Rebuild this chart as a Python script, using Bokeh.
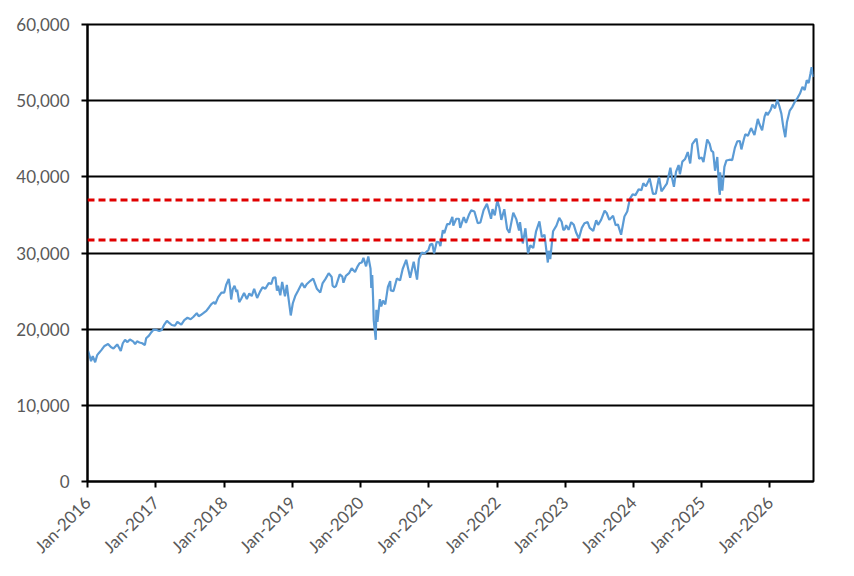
import math
import pandas as pd
from bokeh.plotting import figure
from bokeh.models import Range1d, FixedTicker, Span
from bokeh.embed import file_html
from bokeh.resources import INLINE

# ---------------- data ----------------
dates = [
    "2016-01-04", "2016-01-12", "2016-01-20", "2016-01-29", "2016-02-11", "2016-02-22", "2016-03-01", "2016-03-15",
    "2016-04-01", "2016-04-20", "2016-05-05", "2016-05-19", "2016-06-08", "2016-06-16", "2016-06-27", "2016-07-08",
    "2016-07-20", "2016-08-02", "2016-08-15", "2016-09-01", "2016-09-12", "2016-09-22", "2016-10-05", "2016-10-20",
    "2016-11-03", "2016-11-10", "2016-11-25", "2016-12-08", "2016-12-20",
    "2017-01-05", "2017-01-19", "2017-02-01", "2017-02-15", "2017-03-01", "2017-03-10", "2017-03-27", "2017-04-13",
    "2017-04-26", "2017-05-17", "2017-06-02", "2017-06-19", "2017-07-06", "2017-07-20", "2017-08-08", "2017-08-18",
    "2017-08-29", "2017-09-12", "2017-09-28", "2017-10-12", "2017-10-25", "2017-11-08", "2017-11-15", "2017-12-01",
    "2017-12-18",
    "2018-01-02", "2018-01-12", "2018-01-26", "2018-02-02", "2018-02-08", "2018-02-16", "2018-02-26", "2018-03-08",
    "2018-03-12", "2018-03-23", "2018-04-03", "2018-04-18", "2018-05-03", "2018-05-16", "2018-05-29", "2018-06-11",
    "2018-06-27", "2018-07-12", "2018-07-26", "2018-08-10", "2018-08-28", "2018-09-11", "2018-09-21", "2018-10-03",
    "2018-10-11", "2018-10-17", "2018-10-29", "2018-11-08", "2018-11-23", "2018-12-03", "2018-12-10", "2018-12-24",
    "2019-01-04", "2019-01-17", "2019-02-01", "2019-02-22", "2019-03-08", "2019-03-19", "2019-04-08", "2019-04-23",
    "2019-05-13", "2019-05-31", "2019-06-12", "2019-06-28", "2019-07-15", "2019-07-31", "2019-08-05", "2019-08-14",
    "2019-08-23", "2019-09-12", "2019-09-26", "2019-10-02", "2019-10-15", "2019-11-01", "2019-11-15", "2019-12-03",
    "2019-12-17", "2019-12-27",
    "2020-01-08", "2020-01-17", "2020-01-31", "2020-02-12", "2020-02-24", "2020-02-28", "2020-03-04", "2020-03-09",
    "2020-03-12", "2020-03-16", "2020-03-23", "2020-03-26", "2020-04-01", "2020-04-14", "2020-04-21", "2020-05-01",
    "2020-05-13", "2020-05-27", "2020-06-08", "2020-06-11", "2020-06-26", "2020-07-14", "2020-07-31", "2020-08-14",
    "2020-09-02", "2020-09-23", "2020-10-12", "2020-10-30", "2020-11-09", "2020-11-24", "2020-12-10", "2020-12-30",
    "2021-01-08", "2021-01-20", "2021-01-29", "2021-02-12", "2021-02-25", "2021-03-04", "2021-03-17", "2021-03-25",
    "2021-04-09", "2021-04-22", "2021-05-07", "2021-05-12", "2021-05-28", "2021-06-11", "2021-06-18", "2021-07-07",
    "2021-07-19", "2021-08-05", "2021-08-16", "2021-09-02", "2021-09-20", "2021-10-04", "2021-10-21", "2021-11-08",
    "2021-11-30", "2021-12-08", "2021-12-20", "2021-12-30",
    "2022-01-04", "2022-01-14", "2022-01-24", "2022-02-09", "2022-02-24", "2022-03-08", "2022-03-29", "2022-04-14",
    "2022-04-29", "2022-05-04", "2022-05-19", "2022-06-02", "2022-06-16", "2022-06-28", "2022-07-14", "2022-07-29",
    "2022-08-16", "2022-08-29", "2022-09-12", "2022-09-30", "2022-10-05", "2022-10-13", "2022-10-28", "2022-11-15",
    "2022-11-30", "2022-12-13", "2022-12-22", "2022-12-30",
    "2023-01-06", "2023-01-19", "2023-02-02", "2023-02-16", "2023-03-01", "2023-03-15", "2023-03-31", "2023-04-14",
    "2023-05-01", "2023-05-12", "2023-05-31", "2023-06-16", "2023-06-26", "2023-07-12", "2023-07-31", "2023-08-11",
    "2023-08-25", "2023-09-14", "2023-09-28", "2023-10-10", "2023-10-27", "2023-11-14", "2023-11-29", "2023-12-13",
    "2023-12-28",
    "2024-01-12", "2024-01-29", "2024-02-13", "2024-02-23", "2024-03-08", "2024-03-28", "2024-04-15", "2024-04-30",
    "2024-05-17", "2024-05-30", "2024-06-14", "2024-06-28", "2024-07-17", "2024-07-25", "2024-08-05", "2024-08-16",
    "2024-08-30", "2024-09-06", "2024-09-19", "2024-10-04", "2024-10-18", "2024-10-31", "2024-11-11", "2024-11-29",
    "2024-12-04", "2024-12-18", "2024-12-31",
    "2025-01-10", "2025-01-30", "2025-02-12", "2025-02-21", "2025-03-03", "2025-03-13", "2025-03-25", "2025-04-04",
    "2025-04-08", "2025-04-09", "2025-04-21", "2025-05-02", "2025-05-13", "2025-05-30", "2025-06-13", "2025-06-27",
    "2025-07-10", "2025-07-24", "2025-08-01", "2025-08-14", "2025-08-22", "2025-09-05", "2025-09-22", "2025-10-10",
    "2025-10-28", "2025-11-06", "2025-11-20", "2025-12-03", "2025-12-12", "2025-12-19",
    "2026-01-05", "2026-01-14", "2026-01-28", "2026-02-09", "2026-02-20", "2026-03-03", "2026-03-13", "2026-03-24",
    "2026-04-02", "2026-04-17", "2026-05-01", "2026-05-15", "2026-05-27", "2026-06-10", "2026-06-24", "2026-07-06",
    "2026-07-17", "2026-07-27", "2026-08-06", "2026-08-12", "2026-08-17", "2026-08-21",
]

index_values = [
    17150, 16500, 15800, 16450, 15660, 16600, 16850, 17250,
    17800, 18050, 17650, 17450, 18000, 17650, 17150, 18150,
    18600, 18300, 18650, 18400, 18050, 18400, 18250, 18150,
    17900, 18800, 19150, 19600, 19950,
    19900, 19750, 19900, 20600, 21100, 20900, 20550, 20450,
    20950, 20600, 21200, 21500, 21300, 21600, 22100, 21700,
    21850, 22100, 22400, 22850, 23300, 23550, 23300, 24200,
    24800,
    24800, 25800, 26600, 25500, 23900, 25200, 25700, 24900,
    25200, 23550, 24000, 24750, 23950, 24700, 24350, 25300,
    24100, 24900, 25500, 25300, 26050, 25950, 26750, 26800,
    25050, 25700, 24450, 26200, 24300, 25800, 24400, 21800,
    23400, 24350, 25050, 26050, 25450, 25900, 26350, 26650,
    25300, 24800, 26000, 26600, 27350, 26850, 25700, 25500,
    25650, 27200, 26900, 26100, 27000, 27350, 28000, 27500,
    28250, 28650,
    28750, 29350, 28250, 29550, 27950, 25400, 27100, 23850,
    21200, 20200, 18600, 22550, 20950, 23950, 23000, 23750,
    23250, 25550, 26300, 25100, 25000, 26650, 26400, 27900,
    29100, 26750, 28850, 26500, 29200, 30050, 29950, 30400,
    31100, 31200, 29950, 31450, 31400, 30900, 33000, 32600,
    33800, 33800, 34750, 33600, 34500, 34500, 33300, 34700,
    33950, 35100, 35600, 35450, 33900, 34000, 35600, 36450,
    34500, 35750, 34950, 36450,
    36800, 35900, 34350, 35750, 33150, 32650, 35300, 34450,
    32950, 34050, 31250, 33250, 29950, 31000, 30650, 32850,
    34150, 32100, 32400, 28750, 30300, 29200, 32850, 33600,
    34600, 34100, 33000, 33150,
    33650, 33050, 34050, 33700, 32650, 31900, 33300, 33900,
    34050, 33300, 32900, 34300, 33700, 34350, 35550, 35250,
    34350, 34900, 33650, 33750, 32400, 34800, 35450, 37100,
    37700,
    37600, 38350, 38250, 39150, 38750, 39800, 37750, 37800,
    40000, 38100, 38600, 39100, 41200, 39950, 38700, 40650,
    41550, 40350, 42000, 42350, 43250, 41750, 44300, 44900,
    45000, 42350, 42550,
    41950, 44900, 44350, 43450, 43250, 40800, 42600, 38300,
    37650, 40600, 38200, 41300, 42150, 42250, 42200, 43800,
    44650, 44700, 43600, 44900, 45600, 45400, 46400, 45500,
    47600, 46900, 46100, 47900, 48500, 48100,
    48800, 49500, 49000, 50100, 49300, 48300, 46600, 45200,
    47200, 48700, 49200, 49900, 50300, 50900, 51800, 51400,
    52700, 52300, 53600, 54400, 53600, 53100,
]

reference_levels = [36950, 31700]

x_tick_dates = ["2016-01-01", "2017-01-01", "2018-01-01", "2019-01-01", "2020-01-01", "2021-01-01",
                "2022-01-01", "2023-01-01", "2024-01-01", "2025-01-01", "2026-01-01"]
x_tick_labels = ["Jan-2016", "Jan-2017", "Jan-2018", "Jan-2019", "Jan-2020", "Jan-2021",
                 "Jan-2022", "Jan-2023", "Jan-2024", "Jan-2025", "Jan-2026"]
y_ticks = [0, 10000, 20000, 30000, 40000, 50000, 60000]
y_tick_labels = ["0", "10,000", "20,000", "30,000", "40,000", "50,000", "60,000"]

x_start = "2016-01-01"
x_end = "2026-08-22"

# ---------------- chart ----------------
def to_ms(d):
    return float(pd.Timestamp(d).value // 10**6)

xs = pd.to_datetime(dates)

p = figure(width=846, height=568, x_axis_type="datetime",
           output_backend="svg", toolbar_location=None,
           x_range=Range1d(to_ms(x_start), to_ms(x_end)),
           y_range=Range1d(0, 60000))
p.min_border_left = 87
p.min_border_right = 33
p.min_border_top = 24
p.min_border_bottom = 87
p.background_fill_color = "white"
p.border_fill_color = "white"
p.outline_line_color = "black"
p.outline_line_width = 2

x_ticks = [to_ms(d) for d in x_tick_dates]
p.xaxis.ticker = FixedTicker(ticks=x_ticks)
p.xaxis.major_label_overrides = {t: lab for t, lab in zip(x_ticks, x_tick_labels)}
p.xaxis.major_label_orientation = math.pi / 4
p.yaxis.ticker = FixedTicker(ticks=y_ticks)
p.yaxis.major_label_overrides = {t: lab for t, lab in zip(y_ticks, y_tick_labels)}

for ax in (p.xaxis, p.yaxis):
    ax.axis_line_color = "black"
    ax.axis_line_width = 2
    ax.major_tick_line_color = "black"
    ax.major_tick_line_width = 2
    ax.major_tick_in = 0
    ax.major_tick_out = 6
    ax.minor_tick_line_color = None
    ax.major_label_text_font = "Lato"
    ax.major_label_text_font_size = "17px"
    ax.major_label_text_color = "#595959"
p.yaxis.major_label_standoff = 12
p.xaxis.major_label_standoff = 12

p.xgrid.visible = False
p.ygrid.ticker = FixedTicker(ticks=y_ticks)
p.ygrid.grid_line_color = "black"
p.ygrid.grid_line_width = 1.8

p.line(xs, index_values, line_color="#5B9BD5", line_width=2.2)

for lvl in reference_levels:
    p.add_layout(Span(location=lvl, dimension="width", line_color="#E00000",
                      line_width=3, line_dash="7 4"))

open("out.html", "w").write(file_html(p, INLINE))
